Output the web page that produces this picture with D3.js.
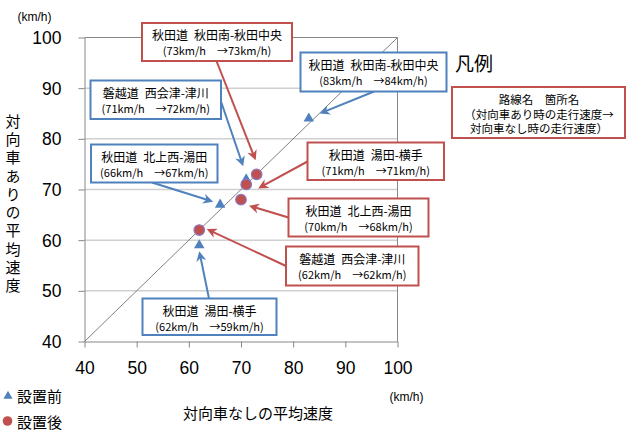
<!DOCTYPE html>
<html>
<head>
<meta charset="utf-8">
<script src="https://cdn.jsdelivr.net/npm/d3@7"></script>
<style>
  html, body { margin: 0; padding: 0; background: #fff; }
  svg { display: block; }
</style>
</head>
<body>
<svg id="chart" width="626" height="430"></svg>
<script>
// 設置前（三角）・設置後（丸）の区間別走行速度
const beforeRoute   = ["秋田道", "磐越道", "秋田道", "秋田道"];
const beforeSection = ["秋田南-秋田中央", "西会津-津川", "北上西-湯田", "湯田-横手"];
const beforeFirst   = [83, 71, 66, 62];
const beforeSecond  = [84, 72, 67, 59];

const afterRoute   = ["秋田道", "秋田道", "秋田道", "磐越道"];
const afterSection = ["秋田南-秋田中央", "湯田-横手", "北上西-湯田", "西会津-津川"];
const afterFirst   = [73, 71, 70, 62];
const afterSecond  = [73, 71, 68, 62];

const axisTicks = [40, 50, 60, 70, 80, 90, 100];
const speedDomain = [40, 100];

const xTitle = "対向車なしの平均速度";
const yTitle = "対向車ありの平均速度";
const unitLabel = "(km/h)";
const legendTitle = "凡例";
const legendLines = ["路線名　箇所名", "（対向車あり時の走行速度→", "対向車なし時の走行速度）"];
const seriesNames = ["設置前", "設置後"];

// 吹き出しの配置（箱の位置・矢印の始点・点からの矢先のずれ）
const beforeCallouts = [
  { box: [300.5, 52.5, 146, 39],    from: [374, 91.5],  tip: [11, -5] },
  { box: [90.5, 80.5, 130.5, 38.5], from: [221, 101.5], tip: [-3, -13] },
  { box: [91, 144.5, 126.5, 38],    from: [152, 182.5], tip: [-7, -3] },
  { box: [142.5, 298.5, 134, 36.5], from: [209, 298.5], tip: [0, 6] }
];
const afterCallouts = [
  { box: [142, 23, 150, 38],          from: [216.5, 61],    tip: [-1, -14] },
  { box: [307.5, 142.5, 136.5, 37.5], from: [307.5, 161.5], tip: [12, 4] },
  { box: [288.5, 198.5, 140, 38],     from: [288.5, 217.5], tip: [8, 6] },
  { box: [286, 246.5, 132.5, 39],     from: [286, 266],     tip: [7.5, -1] }
];

const BLUE = "#4F81BD";
const RED = "#C0504D";
const GRID = "#D0D0D0";
const AXIS = "#868686";
const JP = "'Noto Sans CJK JP', 'Noto Sans', sans-serif";
const NUM = "'Liberation Sans', Arial, sans-serif";

const svg = d3.select("#chart");
const x = d3.scaleLinear().domain(speedDomain).range([84.5, 397.5]);
const y = d3.scaleLinear().domain(speedDomain).range([341.5, 37.5]);

// 横グリッド線
svg.append("g").selectAll("line")
  .data(axisTicks.filter(t => t > 40 && t < 100))
  .join("line")
  .attr("x1", x(40)).attr("x2", x(100))
  .attr("y1", d => y(d)).attr("y2", d => y(d))
  .attr("stroke", GRID).attr("stroke-width", 1.5);

// プロット領域の上辺・右辺
svg.append("path")
  .attr("d", `M${x(40)},${y(100)}H${x(100)}V${y(40)}`)
  .attr("fill", "none").attr("stroke", AXIS).attr("stroke-width", 1);

// 45度線
svg.append("line")
  .attr("x1", x(40)).attr("y1", y(40))
  .attr("x2", x(100)).attr("y2", y(100))
  .attr("stroke", "#808080").attr("stroke-width", 1);

// 軸
const xAxis = d3.axisBottom(x).tickValues(axisTicks).tickSize(6).tickSizeOuter(0);
const yAxis = d3.axisLeft(y).tickValues(axisTicks).tickSize(6).tickSizeOuter(0);

const gx = svg.append("g").attr("transform", `translate(0,${y(40)})`).call(xAxis);
const gy = svg.append("g").attr("transform", `translate(${x(40)},0)`).call(yAxis);
[gx, gy].forEach(g => {
  g.select(".domain").attr("stroke", AXIS);
  g.selectAll(".tick line").attr("stroke", AXIS);
  g.selectAll(".tick text")
    .attr("fill", "#000")
    .style("font-family", NUM)
    .style("font-size", "17.5px");
});
gx.selectAll(".tick text").attr("dy", null).attr("y", 26).attr("dominant-baseline", "central");
gy.selectAll(".tick text").attr("dy", null).attr("x", -23).attr("dominant-baseline", "central");

// 軸タイトル
svg.append("text")
  .attr("x", 258).attr("y", 412)
  .attr("text-anchor", "middle").attr("dominant-baseline", "central")
  .style("font-family", JP).style("font-size", "15px")
  .text(xTitle);

// 縦書きの軸タイトル
svg.append("text")
  .attr("x", 13).attr("y", 113.5)
  .style("writing-mode", "vertical-rl")
  .style("letter-spacing", "3.3px")
  .style("font-family", JP).style("font-size", "15px")
  .text(yTitle);

svg.append("text")
  .attr("x", 34.5).attr("y", 17)
  .attr("text-anchor", "middle").attr("dominant-baseline", "central")
  .style("font-family", NUM).style("font-size", "12px")
  .text(unitLabel);

svg.append("text")
  .attr("x", 406.5).attr("y", 397)
  .attr("text-anchor", "middle").attr("dominant-baseline", "central")
  .style("font-family", NUM).style("font-size", "12px")
  .text(unitLabel);

// 矢印の先端
const defs = svg.append("defs");
[["arrowBlue", BLUE], ["arrowRed", RED]].forEach(([id, c]) => {
  defs.append("marker")
    .attr("id", id)
    .attr("viewBox", "0 0 10 10")
    .attr("refX", 7).attr("refY", 5)
    .attr("markerWidth", 11).attr("markerHeight", 10)
    .attr("markerUnits", "userSpaceOnUse")
    .attr("orient", "auto")
    .append("path")
    .attr("d", "M0,0 L10,5 L0,10 L3,5 Z")
    .attr("fill", c);
});

function buildSeries(route, section, first, second, layout) {
  return route.map((r, i) => ({
    route: r, section: section[i], first: first[i], second: second[i], layout: layout[i]
  }));
}
const before = buildSeries(beforeRoute, beforeSection, beforeFirst, beforeSecond, beforeCallouts);
const after = buildSeries(afterRoute, afterSection, afterFirst, afterSecond, afterCallouts);

function drawCallouts(data, color, markerId) {
  const g = svg.append("g");
  // 矢印
  g.selectAll("line")
    .data(data)
    .join("line")
    .each(function (d) {
      const px = x(d.first) + d.layout.tip[0];
      const py = y(d.second) + d.layout.tip[1];
      const [sx, sy] = d.layout.from;
      const len = Math.hypot(px - sx, py - sy);
      const ex = px - (px - sx) / len * 3;
      const ey = py - (py - sy) / len * 3;
      d3.select(this)
        .attr("x1", sx).attr("y1", sy).attr("x2", ex).attr("y2", ey);
    })
    .attr("stroke", color).attr("stroke-width", 2)
    .attr("marker-end", `url(#${markerId})`);

  // 吹き出し箱
  const box = g.selectAll("g.box")
    .data(data)
    .join("g").attr("class", "box");
  box.append("rect")
    .attr("x", d => d.layout.box[0]).attr("y", d => d.layout.box[1])
    .attr("width", d => d.layout.box[2]).attr("height", d => d.layout.box[3])
    .attr("fill", "#fff").attr("stroke", color).attr("stroke-width", 2);
  const label = box.append("text")
    .attr("text-anchor", "middle")
    .style("font-family", JP);
  label.append("tspan")
    .attr("x", d => d.layout.box[0] + d.layout.box[2] / 2)
    .attr("y", d => d.layout.box[1] + 11.5)
    .attr("dominant-baseline", "central")
    .style("font-size", "12px")
    .text(d => `${d.route}\u2002${d.section}`);
  label.append("tspan")
    .attr("x", d => d.layout.box[0] + d.layout.box[2] / 2)
    .attr("y", d => d.layout.box[1] + 27)
    .attr("dominant-baseline", "central")
    .style("font-size", "11px")
    .text(d => `(${d.first}km/h　→${d.second}km/h)`);
}
drawCallouts(before, BLUE, "arrowBlue");
drawCallouts(after, RED, "arrowRed");

// 点
const tri = d3.symbol().type(d3.symbolTriangle).size(48);
svg.append("g").selectAll("path")
  .data(before)
  .join("path")
  .attr("transform", d => `translate(${x(d.first)},${y(d.second)})`)
  .attr("d", tri)
  .attr("fill", BLUE);

svg.append("g").selectAll("circle")
  .data(after)
  .join("circle")
  .attr("cx", d => x(d.first)).attr("cy", d => y(d.second))
  .attr("r", 5.3)
  .attr("fill", RED).attr("stroke", "#8B78C4").attr("stroke-width", 1.2);

// 凡例（右上）
svg.append("text")
  .attr("x", 455).attr("y", 62)
  .attr("dominant-baseline", "central")
  .style("font-family", JP).style("font-size", "19px")
  .text(legendTitle);

svg.append("rect")
  .attr("x", 452).attr("y", 87).attr("width", 173).attr("height", 51)
  .attr("fill", "#fff").attr("stroke", RED).attr("stroke-width", 2);

svg.append("text")
  .attr("text-anchor", "middle")
  .style("font-family", JP).style("font-size", "11.5px")
  .selectAll("tspan")
  .data(legendLines)
  .join("tspan")
  .attr("x", 539).attr("y", (d, i) => 99 + i * 14.5)
  .attr("dominant-baseline", "central")
  .text(d => d);

// 凡例（左下）
const legendRows = svg.append("g");
legendRows.append("path")
  .attr("transform", "translate(8,396)")
  .attr("d", d3.symbol().type(d3.symbolTriangle).size(36))
  .attr("fill", BLUE);
legendRows.append("circle")
  .attr("cx", 7.5).attr("cy", 421).attr("r", 4.8)
  .attr("fill", RED);
legendRows.selectAll("text")
  .data(seriesNames)
  .join("text")
  .attr("x", 17).attr("y", (d, i) => 395 + i * 26)
  .attr("dominant-baseline", "central")
  .style("font-family", JP).style("font-size", "15px")
  .text(d => d);
</script>
</body>
</html>
